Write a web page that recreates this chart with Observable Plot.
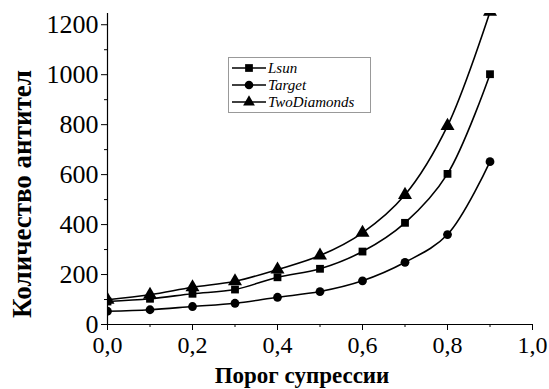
<!DOCTYPE html>
<html>
<head>
<meta charset="utf-8">
<script src="https://cdn.jsdelivr.net/npm/d3@7"></script>
<script src="https://cdn.jsdelivr.net/npm/@observablehq/plot@0.6"></script>
<style>
  html, body { margin: 0; padding: 0; background: #fff; }
  #wrap { position: relative; width: 549px; height: 389px; font-family: "Liberation Serif", "Times New Roman", serif; }
  #legend { position: absolute; left: 228px; top: 57px; width: 143px; height: 56px;
    border: 1px solid #999; box-sizing: border-box; background: #fff; }
  #legend svg { display: block; }
</style>
</head>
<body>
<div id="wrap"></div>
<script>
const thresholds = [0.0, 0.1, 0.2, 0.3, 0.4, 0.5, 0.6, 0.7, 0.8, 0.9];
const lsun = [92, 103, 123, 140, 189, 223, 292, 407, 603, 1002];
const target = [53, 59, 72, 85, 109, 132, 175, 249, 360, 652];
const twoDiamonds = [99, 119, 149, 173, 220, 276, 367, 519, 795, 1252];
const seriesNames = ["Lsun", "Target", "TwoDiamonds"];
const symbols = ["square", "circle", "triangle"];
const yMajor = [0, 200, 400, 600, 800, 1000, 1200];
const yMinor = [100, 300, 500, 700, 900, 1100];
const xMajor = [0, 0.2, 0.4, 0.6, 0.8, 1.0];
const xMinor = [0.1, 0.3, 0.5, 0.7, 0.9];

const allSeries = [lsun, target, twoDiamonds];
const rows = allSeries.flatMap((vals, i) =>
  vals.map((v, j) => ({series: seriesNames[i], x: thresholds[j], y: v})));

const font = "Liberation Serif";
const fmt = d => d.toFixed(1).replace(".", ",");
const blank = () => "";

const marks = [
  Plot.ruleX([0], {stroke: "#000", strokeWidth: 1.2}),
  Plot.ruleY([0], {stroke: "#000", strokeWidth: 1.2}),
  Plot.axisY({ticks: yMajor, tickSize: 6, tickPadding: 3, fontSize: 26, fontFamily: font, tickFormat: d => String(d), fill: "#000"}),
  Plot.axisY({ticks: yMinor, tickSize: 3, tickFormat: blank, label: null}),
  Plot.axisX({ticks: xMajor, tickSize: 6, tickPadding: 5, fontSize: 24, fontFamily: font, tickFormat: fmt, fill: "#000"}),
  Plot.axisX({ticks: xMinor, tickSize: 3, tickFormat: blank, label: null}),
];
allSeries.forEach((vals, i) => {
  const data = rows.filter(r => r.series === seriesNames[i]);
  marks.push(Plot.line(data, {x: "x", y: "y", curve: "catmull-rom", stroke: "#000", strokeWidth: 1.6, clip: true}));
  marks.push(Plot.dot(data, {x: "x", y: "y", symbol: () => symbols[i], r: i === 2 ? 5.2 : 4.4, fill: "#000", stroke: "none", clip: true}));
});
marks.push(Plot.text(["Порог супрессии"], {frameAnchor: "bottom", dx: -18, dy: 51, lineAnchor: "middle", fontSize: 23, fontWeight: "bold", fontFamily: font, fill: "#000"}));
marks.push(Plot.text(["Количество антител"], {frameAnchor: "left", dx: -85, dy: 25, rotate: -90, textAnchor: "middle", fontSize: 27, fontWeight: "bold", fontFamily: font, fill: "#000"}));

const chart = Plot.plot({
  width: 549,
  height: 389,
  marginLeft: 107,
  marginRight: 17,
  marginTop: 13,
  marginBottom: 65,
  style: {fontFamily: font, color: "#000", background: "#fff"},
  x: {domain: [0, 1.0], label: null},
  y: {domain: [0, 1245], label: null},
  marks
});
document.getElementById("wrap").appendChild(chart);

// Legend
const leg = document.createElement("div");
leg.id = "legend";
const ns = "http://www.w3.org/2000/svg";
const svg = document.createElementNS(ns, "svg");
svg.setAttribute("width", 141);
svg.setAttribute("height", 54);
const symPath = {
  square: d3.symbol(d3.symbolSquare, 60)(),
  circle: d3.symbol(d3.symbolCircle, 58)(),
  triangle: d3.symbol(d3.symbolTriangle, 60)()
};
seriesNames.forEach((name, i) => {
  const cy = 10 + i * 17;
  const g = document.createElementNS(ns, "g");
  const ln = document.createElementNS(ns, "line");
  ln.setAttribute("x1", 3); ln.setAttribute("x2", 37);
  ln.setAttribute("y1", cy); ln.setAttribute("y2", cy);
  ln.setAttribute("stroke", "#000"); ln.setAttribute("stroke-width", 1.6);
  g.appendChild(ln);
  const p = document.createElementNS(ns, "path");
  p.setAttribute("d", symPath[symbols[i]]);
  p.setAttribute("transform", `translate(20,${cy})`);
  p.setAttribute("fill", "#000");
  g.appendChild(p);
  const t = document.createElementNS(ns, "text");
  t.setAttribute("x", 39); t.setAttribute("y", cy + 5);
  t.setAttribute("font-family", font);
  t.setAttribute("font-style", "italic");
  t.setAttribute("font-size", 15);
  t.textContent = name;
  g.appendChild(t);
  svg.appendChild(g);
});
leg.appendChild(svg);
document.getElementById("wrap").appendChild(leg);
</script>
</body>
</html>
